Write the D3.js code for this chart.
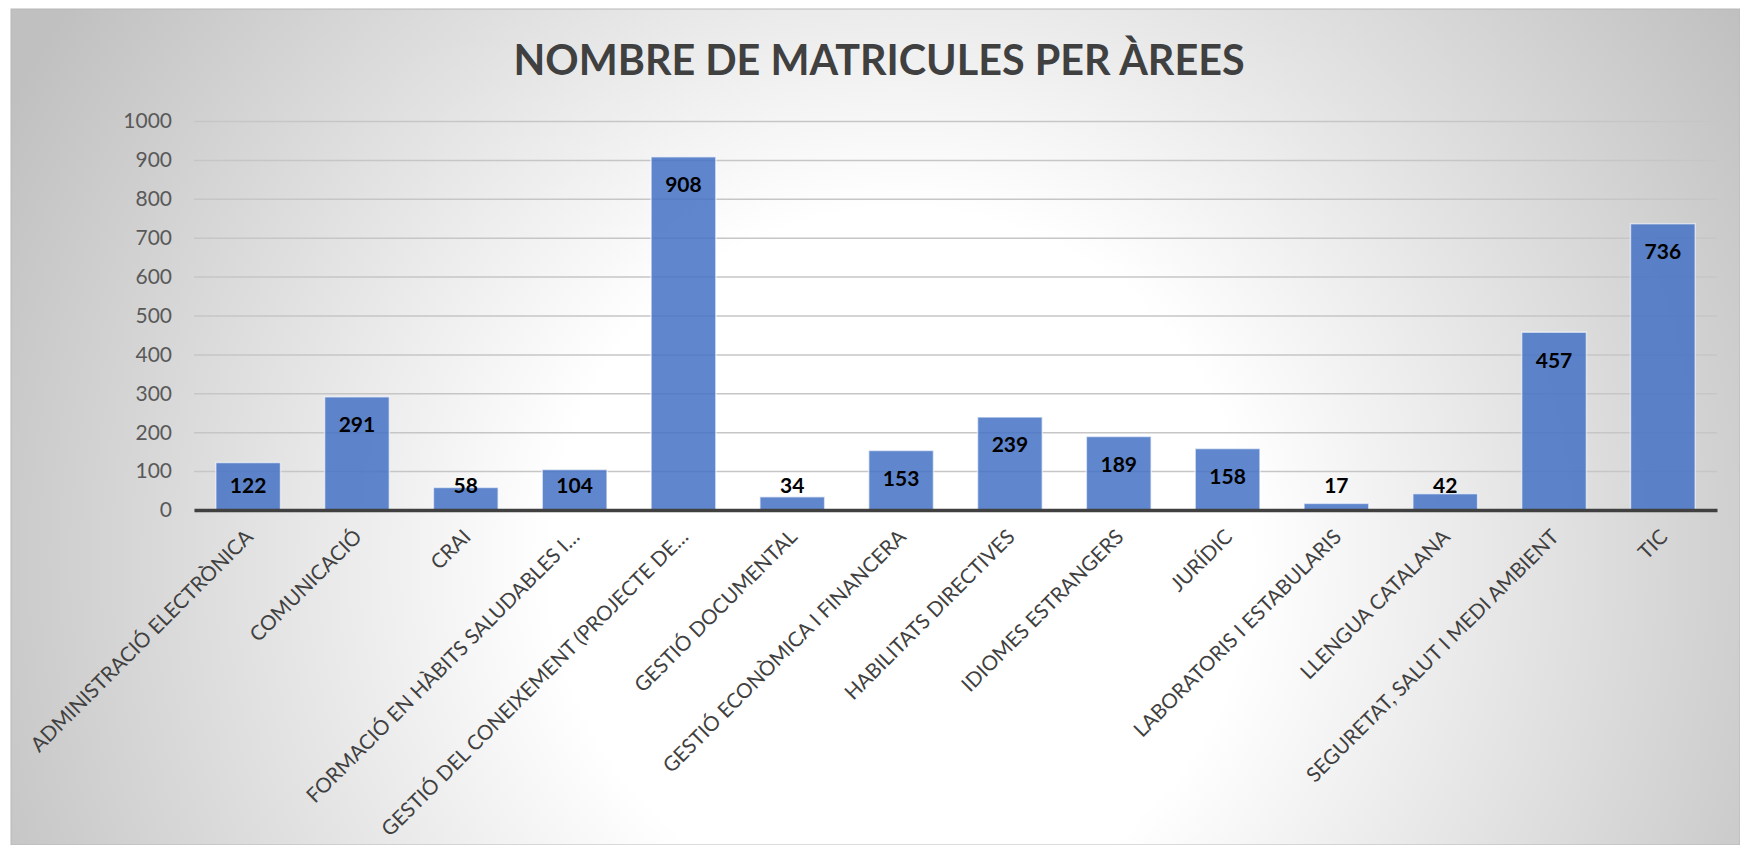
<!DOCTYPE html>
<html>
<head>
<meta charset="utf-8">
<script src="https://cdn.jsdelivr.net/npm/d3@7"></script>
<style>
  body { margin: 0; background: #fff; }
  svg { display: block; font-family: Lato, "Open Sans", sans-serif; }
</style>
</head>
<body>
<div id="chart"></div>
<script>
// Datos del gráfico
const title = 'NOMBRE DE MATRICULES PER ÀREES';
const categories = [
  'ADMINISTRACIÓ ELECTRÒNICA',
  'COMUNICACIÓ',
  'CRAI',
  'FORMACIÓ EN HÀBITS SALUDABLES I…',
  'GESTIÓ DEL CONEIXEMENT (PROJECTE DE…',
  'GESTIÓ DOCUMENTAL',
  'GESTIÓ ECONÒMICA I FINANCERA',
  'HABILITATS DIRECTIVES',
  'IDIOMES ESTRANGERS',
  'JURÍDIC',
  'LABORATORIS I ESTABULARIS',
  'LLENGUA CATALANA',
  'SEGURETAT, SALUT I MEDI AMBIENT',
  'TIC'
];
const values = [122, 291, 58, 104, 908, 34, 153, 239, 189, 158, 17, 42, 457, 736];
const yTicks = [0, 100, 200, 300, 400, 500, 600, 700, 800, 900, 1000];

const width = 1740;
const height = 845;
const plot = { left: 194, right: 1717, top: 121, bottom: 510 };

const svg = d3.select('#chart').append('svg')
  .attr('width', width)
  .attr('height', height);

// Fondo con degradado radial
const grad = svg.append('defs').append('radialGradient')
  .attr('id', 'bg')
  .attr('gradientUnits', 'userSpaceOnUse')
  .attr('cx', 900).attr('cy', 560).attr('r', 1000);
grad.append('stop').attr('offset', 0).attr('stop-color', '#ffffff');
grad.append('stop').attr('offset', 0.35).attr('stop-color', '#ffffff');
grad.append('stop').attr('offset', 1).attr('stop-color', '#c0c0c0');

svg.append('rect')
  .attr('x', 11).attr('y', 9)
  .attr('width', width - 11).attr('height', height - 9)
  .attr('fill', 'url(#bg)')
  .attr('stroke', '#b8b8b8')
  .attr('stroke-width', 1);

// Escalas
const x = d3.scaleBand()
  .domain(categories)
  .range([plot.left, plot.right])
  .paddingInner(0.405)
  .paddingOuter(0.2);

const y = d3.scaleLinear()
  .domain([0, 1000])
  .range([plot.bottom, plot.top]);

// Líneas de cuadrícula
svg.append('g')
  .attr('transform', `translate(${plot.left},0)`)
  .call(d3.axisLeft(y).tickValues(yTicks).tickSize(-(plot.right - plot.left)).tickFormat(''))
  .call(g => g.select('.domain').remove())
  .call(g => g.selectAll('.tick line').attr('stroke', '#c6c6c6').attr('stroke-width', 1.5));

// Etiquetas del eje Y
svg.append('g')
  .selectAll('text')
  .data(yTicks)
  .enter()
  .append('text')
  .attr('x', 172)
  .attr('y', d => y(d))
  .attr('dy', '0.35em')
  .attr('text-anchor', 'end')
  .attr('fill', '#595959')
  .attr('font-size', '21px')
  .text(d => d);

// Barras
svg.append('g')
  .selectAll('rect')
  .data(values)
  .enter()
  .append('rect')
  .attr('x', (d, i) => x(categories[i]))
  .attr('y', d => y(d))
  .attr('width', x.bandwidth())
  .attr('height', d => y(0) - y(d))
  .attr('fill', '#4472c4')
  .attr('fill-opacity', 0.85)
  .attr('stroke', '#ffffff')
  .attr('stroke-opacity', 0.6)
  .attr('stroke-width', 1.5);

// Eje X (línea base)
svg.append('g')
  .attr('transform', `translate(0,${plot.bottom})`)
  .call(d3.axisBottom(x).tickSize(0).tickFormat(''))
  .call(g => g.select('.domain').attr('stroke', '#404040').attr('stroke-width', 3.5));

// Etiquetas de valor
svg.append('g')
  .selectAll('text')
  .data(values)
  .enter()
  .append('text')
  .attr('x', (d, i) => x(categories[i]) + x.bandwidth() / 2)
  .attr('y', d => Math.min(y(d) + 28, 486))
  .attr('dy', '0.35em')
  .attr('text-anchor', 'middle')
  .attr('font-weight', 'bold')
  .attr('font-size', '21px')
  .attr('fill', '#000')
  .text(d => d);

// Etiquetas de categorías (rotadas)
svg.append('g')
  .selectAll('text')
  .data(categories)
  .enter()
  .append('text')
  .attr('transform', d => `translate(${x(d) + x.bandwidth() / 2 - 4},${plot.bottom + 18}) rotate(-45)`)
  .attr('text-anchor', 'end')
  .attr('dy', '0.7em')
  .attr('font-size', '20.5px')
  .attr('fill', '#404040')
  .text(d => d);

// Título
const t = svg.append('text')
  .attr('x', 879)
  .attr('y', 75)
  .attr('text-anchor', 'middle')
  .attr('font-weight', 'bold')
  .attr('font-size', '40px')
  .attr('fill', '#404040')
  .text(title);
const tw = t.node().getComputedTextLength();
t.attr('font-size', (40 * 732 / tw).toFixed(1) + 'px');
</script>
</body>
</html>
